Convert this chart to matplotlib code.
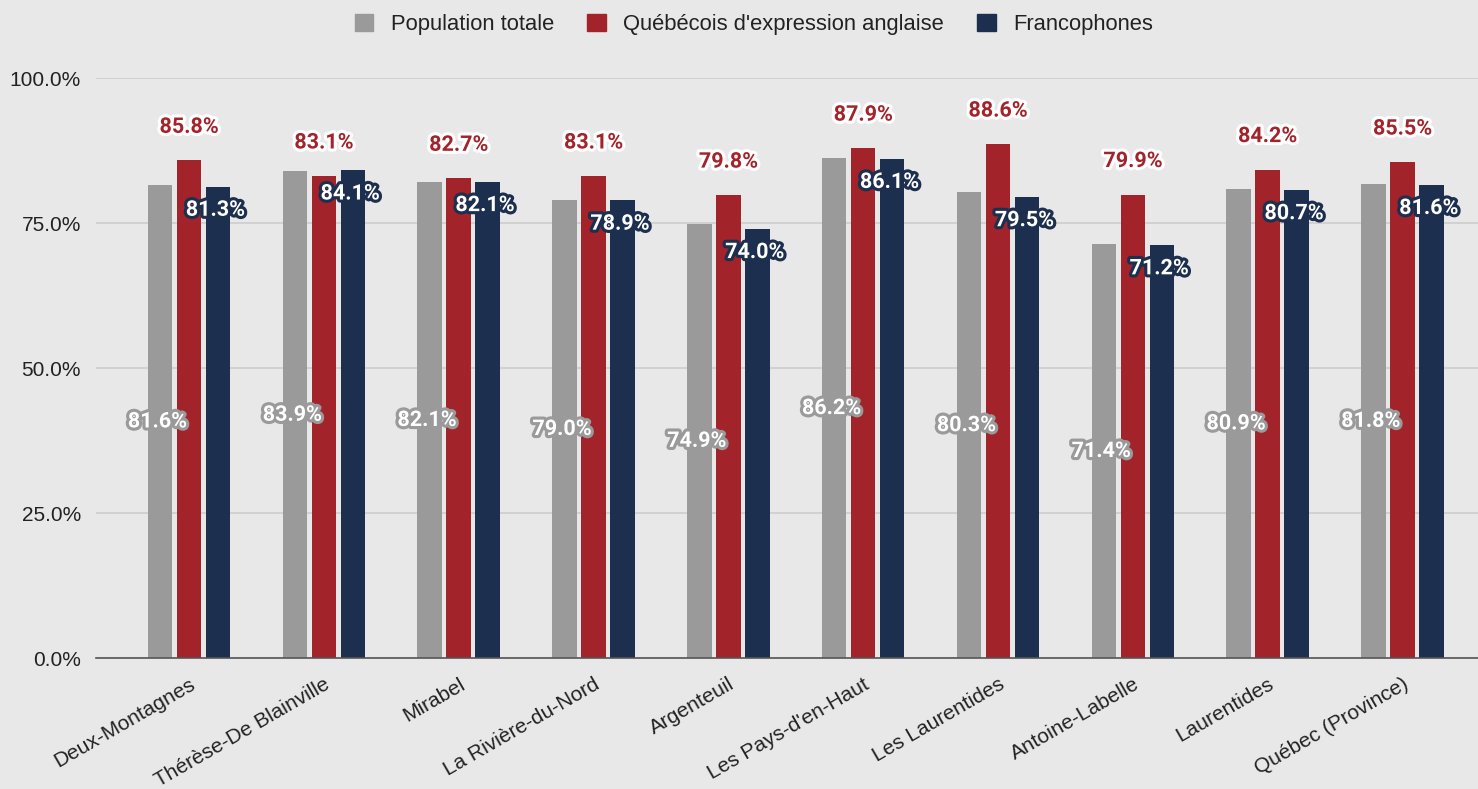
import matplotlib
matplotlib.use("Agg")
import matplotlib.pyplot as plt
import matplotlib.patheffects as pe
from matplotlib.patches import Patch
from matplotlib.ticker import FuncFormatter
import numpy as np

categories = ["Deux-Montagnes", "Thérèse-De Blainville", "Mirabel", "La Rivière-du-Nord",
              "Argenteuil", "Les Pays-d'en-Haut", "Les Laurentides", "Antoine-Labelle",
              "Laurentides", "Québec (Province)"]
series_names = ["Population totale", "Québécois d'expression anglaise", "Francophones"]
population_totale = [81.6, 83.9, 82.1, 79.0, 74.9, 86.2, 80.3, 71.4, 80.9, 81.8]
expression_anglaise = [85.8, 83.1, 82.7, 83.1, 79.8, 87.9, 88.6, 79.9, 84.2, 85.5]
francophones = [81.3, 84.1, 82.1, 78.9, 74.0, 86.1, 79.5, 71.2, 80.7, 81.6]
y_ticks = [0, 25, 50, 75, 100]

GRAY = "#9a9a9a"
RED = "#a3232a"
NAVY = "#1c2f4f"
BG = "#e8e8e8"

fig = plt.figure(figsize=(14.78, 7.89), dpi=100, facecolor=BG)
ax = fig.add_axes([0.065, 0.166, 0.935, 0.735], facecolor=BG)

x = np.arange(len(categories))
width = 0.182
pitch = 0.215

bars_g = ax.bar(x - pitch, population_totale, width, color=GRAY, zorder=3)
bars_r = ax.bar(x, expression_anglaise, width, color=RED, zorder=3)
bars_n = ax.bar(x + pitch, francophones, width, color=NAVY, zorder=3)

label_font = dict(family="Roboto", fontweight="bold", fontsize=15.5)

for b, v in zip(bars_g, population_totale):
    ax.text(b.get_x() + b.get_width() / 2 - 0.02, v / 2, f"{v:.1f}%", color="white",
            ha="center", va="center", zorder=5, clip_on=False,
            path_effects=[pe.withStroke(linewidth=4.5, foreground=GRAY)], **label_font)

for b, v in zip(bars_r, expression_anglaise):
    ax.text(b.get_x() + b.get_width() / 2, v + 5.8, f"{v:.1f}%", color=RED,
            ha="center", va="center", zorder=5, clip_on=False,
            path_effects=[pe.withStroke(linewidth=4.5, foreground="white")], **label_font)

for b, v in zip(bars_n, francophones):
    ax.text(b.get_x() + b.get_width() / 2 - 0.02, v - 4.0, f"{v:.1f}%", color="white",
            ha="center", va="center", zorder=5, clip_on=False,
            path_effects=[pe.withStroke(linewidth=4.5, foreground=NAVY)], **label_font)

ax.set_xlim(-0.69, 9.56)
ax.set_ylim(0, 100)
ax.set_yticks(y_ticks)
ax.yaxis.set_major_formatter(FuncFormatter(lambda v, p: f"{v:.1f}%"))
ax.grid(axis="y", color="#cdcdcd", linewidth=1.2, zorder=0)
ax.set_axisbelow(True)

for side in ["top", "right", "left"]:
    ax.spines[side].set_visible(False)
ax.spines["bottom"].set_color("#555555")
ax.spines["bottom"].set_linewidth(1.2)
ax.spines["bottom"].set_zorder(4)

ax.tick_params(axis="both", length=0, labelcolor="#222222")
ax.tick_params(axis="y", pad=11, labelsize=15)
ax.tick_params(axis="x", pad=12, labelsize=15)
ax.set_xticks(x)
ax.set_xticklabels(categories, rotation=30, ha="right", rotation_mode="anchor",
                   family="Liberation Sans", fontsize=15)
for lbl in ax.get_yticklabels():
    lbl.set_family("Liberation Sans")

handles = [Patch(facecolor=c, edgecolor=c) for c in (GRAY, RED, NAVY)]
fig.legend(handles, series_names, loc="center", bbox_to_anchor=(0.510, 0.969), ncol=3,
           frameon=False, prop=dict(family="Liberation Sans", size=15.8),
           handlelength=0.85, handleheight=0.85, handletextpad=0.8, columnspacing=1.5,
           labelcolor="#222222")

fig.savefig("out.png", dpi=100, facecolor=BG)
